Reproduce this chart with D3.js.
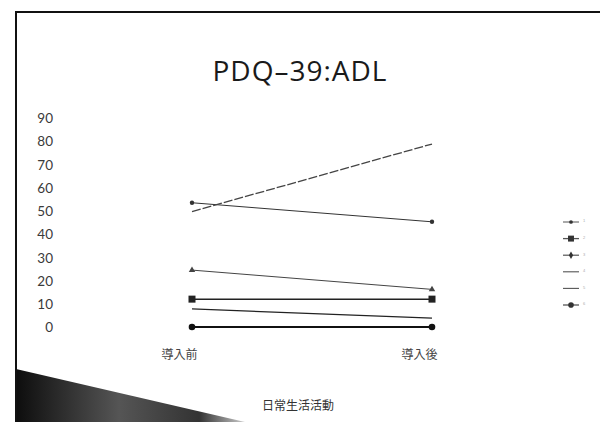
<!DOCTYPE html>
<html><head><meta charset="utf-8">
<script src="https://cdn.jsdelivr.net/npm/d3@7"></script>
<style>html,body{margin:0;padding:0;background:#fff;}svg{display:block;}</style>
</head><body>
<svg id="chart" width="600" height="422"></svg>
<script>
const categories = ["導入前", "導入後"];
const seriesNames = ["1", "2", "3", "4", "5", "6"];
const seriesDot      = [53.5, 45.3];
const seriesDashed   = [49.7, 78.8];
const seriesTriangle = [24.5, 16.2];
const seriesSquare   = [12, 12];
const seriesPlain    = [7.8, 3.8];
const seriesCircle   = [0, 0];
const yTicks = [0, 10, 20, 30, 40, 50, 60, 70, 80, 90];
const title = "PDQ–39:ADL";
const xTitle = "日常生活活動";

const series = [
  {name: seriesNames[0], values: seriesDot, marker: "dot", width: 1, dash: null, color: "#333"},
  {name: seriesNames[1], values: seriesDashed, marker: null, width: 1.3, dash: "9,2", color: "#444"},
  {name: seriesNames[2], values: seriesTriangle, marker: "triangle", width: 1, dash: null, color: "#444"},
  {name: seriesNames[3], values: seriesSquare, marker: "square", width: 1.5, dash: null, color: "#222"},
  {name: seriesNames[4], values: seriesPlain, marker: null, width: 1.3, dash: null, color: "#222"},
  {name: seriesNames[5], values: seriesCircle, marker: "circle", width: 2, dash: null, color: "#111"}
];
const legendOrder = [
  {marker: "dot", width: 1}, {marker: "square", width: 1.3}, {marker: "diamond", width: 1.2},
  {marker: null, width: 1.1}, {marker: null, width: 1.1}, {marker: "circle", width: 1.3}
];

const svg = d3.select("#chart");

// photo frame
const defs = svg.append("defs");
const grad = defs.append("linearGradient").attr("id", "wedge").attr("x1", "0").attr("y1", "0").attr("x2", "1").attr("y2", "0");
grad.append("stop").attr("offset", "0").attr("stop-color", "#0d0d0d");
grad.append("stop").attr("offset", "0.45").attr("stop-color", "#555");
grad.append("stop").attr("offset", "0.8").attr("stop-color", "#333");
grad.append("stop").attr("offset", "1").attr("stop-color", "#ccc");
svg.append("path").attr("d", "M16,369 L245,422 L16,422 Z").attr("fill", "url(#wedge)");
svg.append("line").attr("x1", 15).attr("x2", 600).attr("y1", 12).attr("y2", 12).attr("stroke", "#111").attr("stroke-width", 2);
svg.append("line").attr("x1", 16).attr("x2", 16).attr("y1", 11).attr("y2", 422).attr("stroke", "#111").attr("stroke-width", 2);

const x = d3.scalePoint().domain(categories).range([192, 432]);
const y = d3.scaleLinear().domain([0, 90]).range([327, 118]);

// title
svg.append("text").attr("x", 300).attr("y", 81).attr("text-anchor", "middle")
  .attr("font-family", "'Open Sans', 'DejaVu Sans', sans-serif").attr("font-size", 28)
  .attr("letter-spacing", 1).attr("fill", "#1a1a1a").text(title);

// y axis (labels only)
const yAxis = d3.axisLeft(y).tickValues(yTicks).tickSize(0).tickPadding(0);
const gy = svg.append("g").attr("transform", "translate(53,0)").call(yAxis);
gy.select(".domain").remove();
gy.selectAll("text").attr("font-family", "Lato, 'Open Sans', sans-serif")
  .attr("font-size", 13.5).attr("fill", "#3a3a3a").attr("dy", "0.35em");

// x axis (labels only)
const xAxis = d3.axisBottom(x).tickSize(0).tickPadding(0);
const gx = svg.append("g").attr("transform", "translate(-13,350)").call(xAxis);
gx.select(".domain").remove();
gx.selectAll("text").attr("font-family", "'Noto Sans CJK JP', sans-serif")
  .attr("font-size", 12).attr("fill", "#444").attr("dy", "0.75em");

svg.append("text").attr("x", 298).attr("y", 410).attr("text-anchor", "middle")
  .attr("font-family", "'Noto Sans CJK JP', sans-serif").attr("font-size", 12)
  .attr("fill", "#333").text(xTitle);

function drawMarker(g, type, cx, cy, color, k = 1) {
  if (type === "dot") g.append("circle").attr("cx", cx).attr("cy", cy).attr("r", 2.2 * k).attr("fill", color);
  else if (type === "circle") g.append("circle").attr("cx", cx).attr("cy", cy).attr("r", 3.3 * k).attr("fill", color);
  else if (type === "square") g.append("rect").attr("x", cx - 3.5 * k).attr("y", cy - 3.5 * k).attr("width", 7 * k).attr("height", 7 * k).attr("fill", color);
  else if (type === "triangle") g.append("path").attr("d", d3.symbol(d3.symbolTriangle, 18 * k * k)()).attr("transform", `translate(${cx},${cy})`).attr("fill", color);
  else if (type === "diamond") g.append("path").attr("d", d3.symbol(d3.symbolDiamond, 22 * k * k)()).attr("transform", `translate(${cx},${cy})`).attr("fill", color);
}

const line = d3.line().x((d, i) => x(categories[i])).y(d => y(d));
const plot = svg.append("g");
series.forEach(s => {
  plot.append("path").attr("d", line(s.values)).attr("fill", "none")
    .attr("stroke", s.color).attr("stroke-width", s.width)
    .attr("stroke-dasharray", s.dash);
  if (s.marker) s.values.forEach((v, i) => drawMarker(plot, s.marker, x(categories[i]), y(v), s.color));
});

// legend
const legY = d3.scalePoint().domain(seriesNames).range([222, 305]);
const leg = svg.append("g");
seriesNames.forEach((n, i) => {
  const cy = legY(n);
  const o = legendOrder[i];
  leg.append("line").attr("x1", 563).attr("x2", 579).attr("y1", cy).attr("y2", cy)
    .attr("stroke", "#555").attr("stroke-width", o.width);
  if (o.marker) drawMarker(leg, o.marker, 571, cy, "#333", 0.85);
  leg.append("text").attr("x", 583).attr("y", cy).attr("dy", "0.1em")
    .attr("font-family", "sans-serif").attr("font-size", 4).attr("fill", "#aaa").text(n);
});
</script>
</body></html>
